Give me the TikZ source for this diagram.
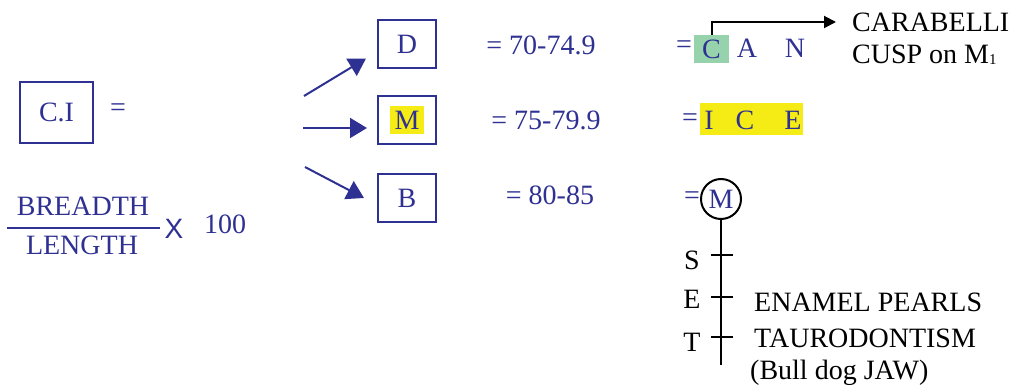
\documentclass[tikz,border=0pt]{standalone}
\usepackage{fontspec}
\setmainfont{Liberation Serif}
\newfontfamily\xfont{Liberation Sans}
\usetikzlibrary{arrows.meta,calc}
\definecolor{IndexBlue}{RGB}{46,49,146}
\definecolor{MarkYellow}{RGB}{245,236,22}
\definecolor{MarkGreen}{RGB}{150,211,172}
\setlength{\fboxsep}{5pt}

\begin{document}
\begin{tikzpicture}[x=1pt,y=-1pt,
  every node/.style={font=\fontsize{28}{32}\selectfont, inner sep=0pt},
  blue text/.style={text=IndexBlue},
  boxed/.style={draw=IndexBlue, line width=2pt, text=IndexBlue, minimum width=58pt, minimum height=48pt},
  pointer/.style={draw=IndexBlue, line width=2pt, -{Triangle[length=17pt,width=20pt]}},
  note/.style={text=black, anchor=west}]
    \useasboundingbox (0,0) rectangle (1015,387);

    % Index and formula
    \node[boxed, minimum width=73pt, minimum height=61pt] (ci) at (56.5,112.5) {C.I};
    \node[blue text] (ciEq) at (118,110) {=};
    \node[blue text] (breadth) at (83,206) {BREADTH};
    \node[blue text] (length) at (82,245) {LENGTH};
    \draw[IndexBlue, line width=1.2pt] (7,228) -- (160,228);
    \node[blue text, font=\xfont\fontsize{28}{32}\selectfont] (times) at (174,229) {X};
    \node[blue text] (hundred) at (225,224) {100};

    % Head forms
    \node[boxed] (D) at (407,44.5) {D};
    \node[boxed] (M) at (407,120) {\colorbox{MarkYellow}{M}};
    \node[boxed] (B) at (407,198) {B};
    \coordinate (fork1) at (304,96);
    \coordinate (fork2) at (303,128);
    \coordinate (fork3) at (305,167);
    \draw[pointer] (fork1) -- ($(D.south west)+(-11,-11)$);
    \draw[pointer] (fork2) -- ($(M.west)+(-10,8)$);
    \draw[pointer] (fork3) -- ($(B.west)+(-13,0)$);

    % Ranges
    \node[blue text] (rangeD) at (541,45) {= 70-74.9};
    \node[blue text] (rangeM) at (546,120) {= 75-79.9};
    \node[blue text] (rangeB) at (550,195) {= 80-85};

    % Dolichocephalic
    \node[blue text] (canEq) at (684,47) {=};
    \node[blue text, fill=MarkGreen, minimum width=35pt, minimum height=28pt] (can1) at (711.5,49) {C};
    \node[blue text] (can2) at (747,48) {A};
    \node[blue text] (can3) at (795,48) {N};
    \node[note] (carab) at (852,22) {CARABELLI};
    \node[note] (cusp) at (852,55) {CUSP on M\raisebox{-1pt}{\fontsize{15}{15}\selectfont 1}};
    \draw[line width=2pt, -{Triangle[length=12pt,width=12pt]}] (can1.north) |- ([xshift=-16pt]carab.west);

    % Mesocephalic
    \node[blue text] (iceEq) at (690,120) {=};
    \node[fill=MarkYellow, minimum width=103pt, minimum height=32pt] (iceMark) at (751.5,119) {};
    \node[blue text] (ice1) at (709,120) {I};
    \node[blue text] (ice2) at (745,120) {C};
    \node[blue text] (ice3) at (793,120) {E};

    % Brachycephalic
    \node[blue text] (mEq) at (692,198) {=};
    \node[draw, circle, line width=2pt, minimum size=40pt, text=IndexBlue] (molar) at (721,199) {M};
    \coordinate (stemEnd) at (721,365);
    \draw[line width=2pt] (molar.south) -- (stemEnd);
    \foreach \y/\ly/\l in {255/260/S, 297/299/E, 337/342/T} {
        \draw[line width=2pt] (711,\y) -- (733,\y);
        \node[note, anchor=center] (set\l) at (692,\ly) {\l};
    }
    \node[note] (pearls) at (754,302) {ENAMEL PEARLS};
    \node[note] (tauro) at (754,338) {TAURODONTISM};
    \node[note] (bull) at (750,373) {(Bull dog JAW)};
\end{tikzpicture}
\end{document}
